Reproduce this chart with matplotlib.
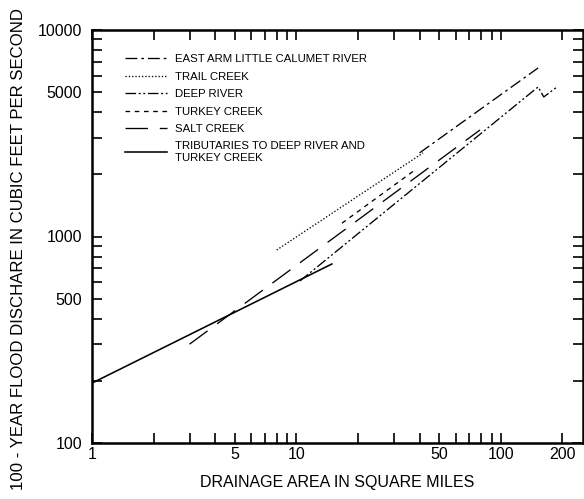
import matplotlib.pyplot as plt
from matplotlib.ticker import FixedLocator, FixedFormatter, NullFormatter
import numpy as np

plt.rcParams['font.family'] = ['Liberation Sans', 'DejaVu Sans']

# Data (drainage area [sq mi], 100-year discharge [cfs])
east_arm_x = [40, 152]
east_arm_y = [2540, 6550]
trail_x = [8, 41.6]
trail_y = [860, 2540]
deep_x = [10.4, 152, 162, 188]
deep_y = [609, 5300, 4740, 5300]
turkey_x = [16.7, 38]
turkey_y = [1160, 2100]
salt_x = [3.0, 79]
salt_y = [301, 3280]
trib_x = [1.0, 14.9]
trib_y = [195, 736]

x_labels = ['1', '5', '10', '50', '100', '200']
x_major = [1, 5, 10, 50, 100, 200]
y_labels = ['100', '500', '1000', '5000', '10000']
y_major = [100, 500, 1000, 5000, 10000]

fig = plt.figure(figsize=(5.84, 4.99), dpi=100)
ax = fig.add_axes([92 / 584, 56 / 499, 491 / 584, 413 / 499])
ax.set_xscale('log')
ax.set_yscale('log')

lw = 0.95
ax.plot(east_arm_x, east_arm_y, color='black', lw=lw,
        dashes=(9, 3, 2, 3), label='EAST ARM LITTLE CALUMET RIVER')
ax.plot(trail_x, trail_y, color='black', lw=lw,
        dashes=(1, 1.5), label='TRAIL CREEK')
ax.plot(deep_x, deep_y, color='black', lw=lw,
        dashes=(8, 2, 1.5, 2, 1.5, 2), label='DEEP RIVER')
ax.plot(turkey_x, turkey_y, color='black', lw=lw,
        dashes=(3.5, 3.5), label='TURKEY CREEK')
ax.plot(salt_x, salt_y, color='black', lw=lw,
        dashes=(17, 9), label='SALT CREEK')
ax.plot(trib_x, trib_y, color='black', lw=1.15,
        label='TRIBUTARIES TO DEEP RIVER AND\nTURKEY CREEK')

ax.set_xlim(1, 252)
ax.set_ylim(100, 10000)

ax.xaxis.set_major_locator(FixedLocator(x_major))
ax.xaxis.set_major_formatter(FixedFormatter(x_labels))
ax.xaxis.set_minor_locator(FixedLocator(
    [i * d for d in (1, 10, 100) for i in range(1, 10)]))
ax.xaxis.set_minor_formatter(NullFormatter())
ax.yaxis.set_major_locator(FixedLocator(y_major))
ax.yaxis.set_major_formatter(FixedFormatter(y_labels))
ax.yaxis.set_minor_locator(FixedLocator(
    [i * d for d in (100, 1000) for i in range(1, 10)]))
ax.yaxis.set_minor_formatter(NullFormatter())

for which in ('major', 'minor'):
    ax.tick_params(axis='both', which=which, direction='in', length=7,
                   width=1.2, top=True, right=True, color='black')
ax.tick_params(axis='x', which='major', pad=3, labelsize=11.5)
ax.tick_params(axis='y', which='major', pad=7, labelsize=11.5)

for s in ax.spines.values():
    s.set_linewidth(1.8)

ax.set_xlabel('DRAINAGE AREA IN SQUARE MILES', fontsize=11.5, labelpad=9)
fig.text(19 / 584, 0.5, '100 - YEAR FLOOD DISCHARE IN CUBIC FEET PER SECOND',
         rotation=90, ha='center', va='center', fontsize=12.1)

ax.legend(loc='upper left', bbox_to_anchor=(0.067, 0.941), frameon=False,
          fontsize=8.2, handlelength=3.7, handletextpad=0.7,
          labelspacing=0.65, borderpad=0, borderaxespad=0)

fig.savefig('out.png', dpi=100)
plt.close(fig)
